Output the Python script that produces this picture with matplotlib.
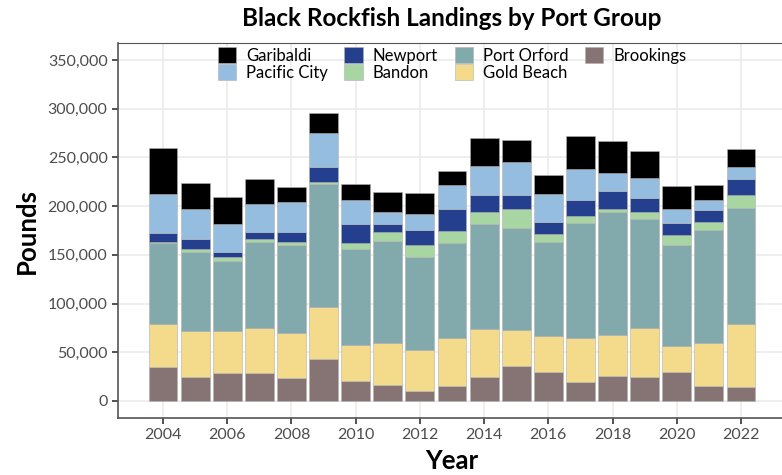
import matplotlib
matplotlib.use("Agg")
import matplotlib.pyplot as plt
import numpy as np

years = list(range(2004, 2023))

# pounds landed, per port group (stack order: bottom to top)
brookings = [34600, 25000, 28800, 28800, 23300, 42800, 20600, 16100, 9900, 15800,
             24700, 36300, 30100, 19500, 25700, 24300, 29500, 15800, 14000]
gold_beach = [44200, 47300, 43100, 45900, 46900, 53800, 36600, 43500, 42800, 48600,
              48900, 36700, 36700, 44900, 42500, 51100, 27400, 43800, 65100]
port_orford = [82900, 80800, 72300, 88700, 90400, 125700, 99000, 105100, 94600, 97600,
               107600, 104100, 96600, 117800, 125300, 111600, 103700, 116100, 119200]
bandon = [1000, 3400, 3100, 3100, 2400, 2700, 5800, 8300, 13300, 12700,
          13300, 20200, 7500, 8200, 3800, 7200, 9600, 7900, 12700]
newport = [9900, 10000, 5500, 7100, 10000, 15400, 19900, 8900, 15100, 22200,
           16800, 14400, 13000, 16100, 18100, 14400, 13000, 12700, 17100]
pacific_city = [39800, 30400, 28700, 28500, 31500, 34300, 24300, 12000, 15800, 25000,
                30200, 33900, 28500, 31900, 18200, 20500, 13700, 9900, 12300]
garibaldi = [47200, 27100, 28100, 26000, 15000, 20500, 16800, 20500, 21500, 14400,
             28700, 22200, 19800, 33500, 33200, 27400, 24000, 15700, 18500]

stack = [
    ("Brookings", brookings, "#857473"),
    ("Gold Beach", gold_beach, "#F4DB8B"),
    ("Port Orford", port_orford, "#82A9AC"),
    ("Bandon", bandon, "#A8D6A2"),
    ("Newport", newport, "#233F8E"),
    ("Pacific City", pacific_city, "#94BDE0"),
    ("Garibaldi", garibaldi, "#000000"),
]
legend_order = ["Garibaldi", "Pacific City", "Newport", "Bandon",
                "Port Orford", "Gold Beach", "Brookings"]

plt.rcParams["font.family"] = ["Lato", "DejaVu Sans"]

fig = plt.figure(figsize=(7.82, 4.75), dpi=100)
ax = fig.add_axes([118 / 782, 57 / 475, 668 / 782, 375 / 475])

bottom = np.zeros(len(years))
handles = {}
for name, vals, col in stack:
    vals = np.array(vals, dtype=float)
    b = ax.bar(years, vals, bottom=bottom, width=0.9, color=col,
               edgecolor="#b0b0b0", linewidth=0.4, label=name, zorder=3)
    handles[name] = b
    bottom += vals

ax.set_xlim(2002.6, 2023.4)
ax.set_ylim(-17500, 367500)
ax.set_xticks(range(2004, 2023, 2))
ax.set_yticks(range(0, 350001, 50000))
ax.yaxis.set_major_formatter(matplotlib.ticker.FuncFormatter(lambda v, p: f"{int(v):,}"))

ax.grid(True, color="#ebebeb", linewidth=1.2, zorder=0)
ax.set_axisbelow(True)
for s in ["left", "bottom"]:
    ax.spines[s].set_color("#555555")
    ax.spines[s].set_linewidth(1.2)
ax.spines["top"].set_color("#555555")
ax.spines["top"].set_linewidth(0.8)
ax.spines["right"].set_visible(False)
ax.tick_params(colors="#333333", labelcolor="#4d4d4d", labelsize=11.5, length=4, width=1.2)

ax.set_xlabel("Year", fontsize=18.5, fontweight="bold", labelpad=5)
ax.set_ylabel("Pounds", fontsize=18.5, fontweight="bold", labelpad=6)
fig.text(452 / 782, 1 - 19 / 475, "Black Rockfish Landings by Port Group",
         ha="center", va="center", fontsize=17.5, fontweight="bold")

ax.legend([handles[n] for n in legend_order], legend_order, ncol=4,
          loc="upper center", bbox_to_anchor=(0.5, 1.015), frameon=False,
          fontsize=12, handlelength=1.1, handleheight=1.1, handletextpad=0.6,
          columnspacing=1.0, labelspacing=0.0, borderpad=0.1)

fig.savefig("out.png", dpi=100)
